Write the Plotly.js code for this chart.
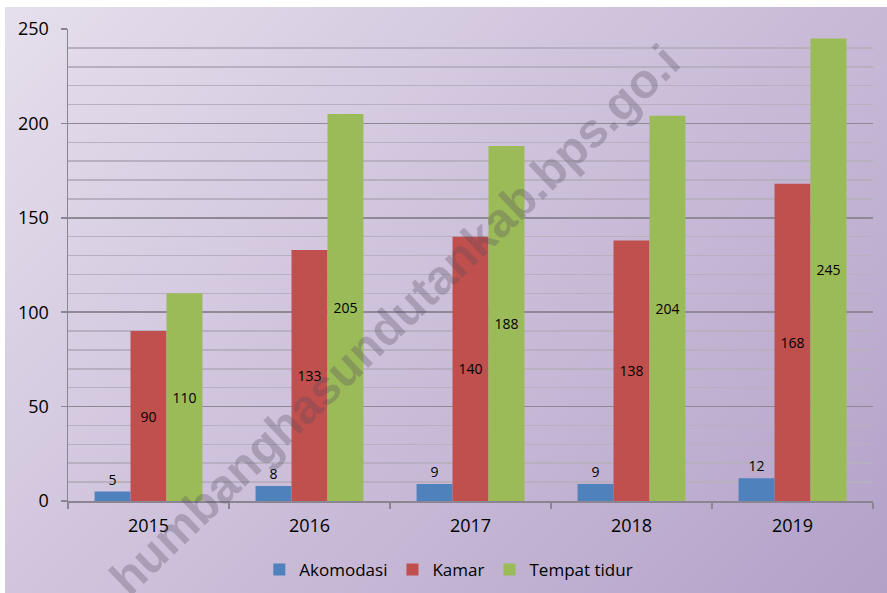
<!DOCTYPE html>
<html>
<head>
<meta charset="utf-8">
<script src="https://cdn.plot.ly/plotly-3.0.1.min.js"></script>
<style>
  html, body { margin: 0; padding: 0; background: #ffffff; }
  #wrap { position: relative; width: 887px; height: 593px; overflow: hidden; background: #ffffff; }
  #bg { position: absolute; left: 5px; top: 7px; width: 882px; height: 586px;
        background: linear-gradient(135deg, #e6dfec 0%, #ccbfda 50%, #b3a1c8 100%); }
  #chart { position: absolute; left: 0; top: 0; width: 887px; height: 593px; }
</style>
</head>
<body>
<div id="wrap">
  <div id="bg"></div>
  <div id="chart"></div>
</div>
<script>
const years = ["2015", "2016", "2017", "2018", "2019"];
const akomodasi = [5, 8, 9, 9, 12];
const kamar = [90, 133, 140, 138, 168];
const tempatTidur = [110, 205, 188, 204, 245];
const seriesNames = ["Akomodasi", "Kamar", "Tempat tidur"];
const yTicks = [0, 50, 100, 150, 200, 250];
const watermark = "humbanghasundutankab.bps.go.i";

const font = 'Open Sans, "Liberation Sans", sans-serif';

function barTrace(name, vals, color, pos) {
  return {
    type: 'bar', name: name, x: years, y: vals,
    marker: { color: color, line: { width: 0 } },
    text: vals.map(String), textposition: pos,
    insidetextanchor: 'middle', textangle: 0, constraintext: 'none',
    textfont: { family: font, size: 14, color: '#000000' },
    outsidetextfont: { family: font, size: 14, color: '#000000' },
    cliponaxis: false, hoverinfo: 'x+y+name'
  };
}

const data = [
  barTrace(seriesNames[0], akomodasi, '#4f81bd', 'outside'),
  barTrace(seriesNames[1], kamar, '#c0504d', 'inside'),
  barTrace(seriesNames[2], tempatTidur, '#9bbb59', 'inside')
];

const layout = {
  width: 887, height: 593,
  margin: { l: 68, r: 14, t: 29, b: 92, pad: 0 },
  paper_bgcolor: 'rgba(0,0,0,0)', plot_bgcolor: 'rgba(0,0,0,0)',
  barmode: 'group', bargap: 0.33, bargroupgap: 0,
  font: { family: font, size: 18, color: '#000000' },
  xaxis: {
    type: 'category', showgrid: false, showline: true, linecolor: '#8a8590', linewidth: 1.5,
    ticks: 'outside', tickson: 'boundaries', ticklen: 6, tickcolor: '#8a8590', tickwidth: 1.5,
    tickfont: { family: font, size: 18, color: '#000000' }, ticklabelstandoff: 8,
    zeroline: false, automargin: false
  },
  yaxis: {
    range: [0, 250], tickvals: yTicks, ticktext: yTicks.map(String),
    showgrid: true, gridcolor: '#8e8994', gridwidth: 1.5,
    minor: { dtick: 10, showgrid: true, gridcolor: '#b8b0c0', gridwidth: 1.5, ticks: '' },
    showline: true, linecolor: '#8a8590', linewidth: 1.5,
    ticks: 'outside', ticklen: 6, tickcolor: '#8a8590', tickwidth: 1.5,
    tickfont: { family: font, size: 18, color: '#000000' }, ticklabelstandoff: 8,
    zeroline: false, automargin: false
  },
  legend: {
    orientation: 'h', xref: 'container', yref: 'container',
    x: 0.506, xanchor: 'center', y: 0.039, yanchor: 'middle',
    font: { family: font, size: 17, color: '#000000' }, bgcolor: 'rgba(0,0,0,0)',
    traceorder: 'normal', itemclick: false, itemwidth: 30
  },
  annotations: [{
    text: watermark, xref: 'paper', yref: 'paper', x: 0.4062, y: 0.3835,
    xanchor: 'center', yanchor: 'middle', showarrow: false, textangle: -43.9,
    font: { family: '"Liberation Sans", Arial, sans-serif', size: 48, weight: 'bold', color: 'rgba(85,75,95,0.30)' }
  }],
  showlegend: true
};

Plotly.newPlot('chart', data, layout, { displayModeBar: false, staticPlot: true });
</script>
</body>
</html>
